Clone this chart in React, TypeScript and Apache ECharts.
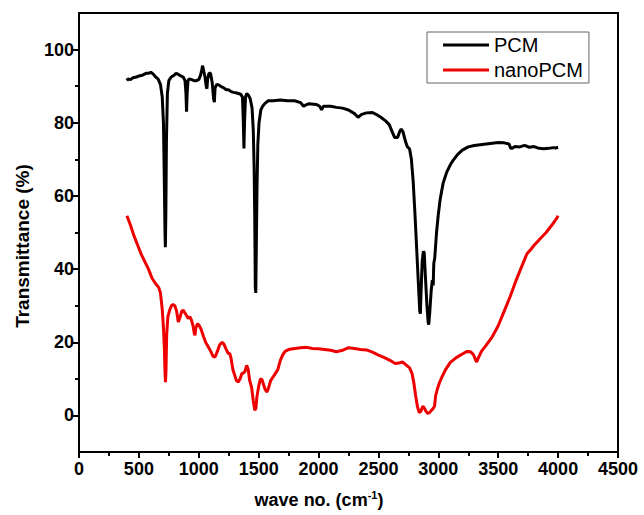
import React, { useEffect, useRef } from "react";
import * as echarts from "echarts";

const seriesNames = ["PCM", "nanoPCM"];

const pcmWave = [400,410,430,450,480,500,530,560,580,600,620,640,660,680,695,705,712,718,721,725,730,738,750,770,790,810,830,850,870,885,893,898,903,910,920,940,960,980,1000,1015,1025,1032,1042,1052,1062,1068,1074,1085,1098,1112,1124,1130,1136,1150,1170,1190,1210,1230,1250,1270,1290,1310,1330,1350,1365,1372,1377,1382,1390,1400,1415,1430,1445,1455,1462,1467,1472,1476,1480,1486,1493,1503,1518,1533,1553,1580,1620,1680,1740,1800,1850,1875,1890,1920,1980,2010,2025,2040,2100,2150,2200,2250,2300,2330,2360,2400,2450,2480,2520,2560,2590,2615,2635,2660,2680,2690,2705,2725,2740,2760,2775,2790,2805,2820,2835,2845,2850,2855,2865,2875,2882,2892,2905,2915,2920,2928,2940,2950,2957,2962,2970,2985,3000,3015,3040,3070,3100,3125,3160,3200,3250,3300,3350,3400,3450,3500,3550,3590,3605,3615,3640,3680,3720,3760,3800,3840,3880,3920,3960,3980,4000];
const pcmT = [91.5,92,91.8,92.3,92.5,92.8,93,93.5,93.5,93.8,93.3,92.5,92,90.5,87,80,65,50,46,55,75,88,91.5,92.5,92.9,93.5,93.2,92.8,92.5,91.5,88,83,88,91.5,92,91.8,91.5,91.5,91.8,93,94.5,95.6,94,92.5,90,89.3,92,93.5,93.5,91,86.5,85.6,89.5,90.5,90.3,89.8,89.5,89,89,88.5,88.3,88.2,88,87.8,87,80,73,80,87,88,87.5,86.5,84,78,68,55,35,33.5,45,62,74,80,83.5,84.5,85.3,86,86,86.2,86,86,85.5,84.5,84.8,85.2,85,84.5,83.5,84.5,84.5,84.2,84,83.5,82.5,81.5,82.3,82.7,82.8,82.3,81.5,80.5,79.5,77.5,76,76,77.8,78.3,77.5,75,73.5,72.8,70,64,55,45,35,28.5,27.8,33,42,44.8,44.5,38,30,25.5,24.8,28,34,37,35.5,41.5,43,50,55,59,63.5,66.5,68.5,69.8,71.3,72.5,73.4,73.8,74,74.2,74.4,74.6,74.5,74.2,73,73,73.5,73.4,73.8,73.3,73.5,73,72.9,73,73.2,73.1,73.3];

const nanoWave = [400,430,460,490,520,550,580,610,640,665,680,695,705,713,718,722,726,732,742,757,772,785,800,815,829,845,858,871,885,900,912,925,940,952,962,968,976,990,1005,1020,1040,1060,1080,1100,1118,1135,1155,1175,1195,1210,1230,1245,1260,1270,1285,1300,1315,1330,1345,1360,1372,1385,1400,1413,1425,1441,1455,1468,1477,1485,1500,1515,1528,1540,1555,1570,1582,1600,1620,1640,1660,1680,1700,1720,1750,1800,1850,1900,1950,2000,2050,2100,2150,2200,2250,2300,2350,2400,2450,2500,2550,2600,2640,2670,2700,2730,2760,2780,2795,2810,2825,2840,2855,2870,2880,2895,2910,2925,2940,2955,2968,2978,2990,3010,3030,3060,3100,3150,3200,3240,3270,3295,3310,3320,3335,3360,3400,3450,3500,3550,3600,3650,3700,3740,3770,3800,3850,3900,3940,3970,3990,4000];
const nanoT = [54.6,52,49,46.5,44,42,40,37.5,36,35,33.5,29,24,18,12,9.1,12,22,27,28.8,30,30.3,30,28.5,25.5,27,28.5,28.7,28,27.2,26.5,27,26,24.5,22.5,21.9,24,25.1,24.5,23.5,21.5,19.8,18.7,17.5,16.2,15.9,17.5,19.3,20,19.5,18,17,16.8,15.5,12.5,11,9.5,9.1,10,11.5,11.5,12,13.7,12.5,9.5,7.7,4,1.4,2,5,8,10,9.8,8.5,7,6.4,7.5,9.5,10.5,11.5,12.5,15,16.5,17.5,18,18.3,18.5,18.6,18.3,18.2,18,17.8,17.4,17.8,18.5,18.3,18,17.9,17.3,16.5,15.8,15,14.2,14.3,14.6,13.8,13,11.5,9,5.5,2.5,0.8,1.2,2.5,2.2,1.2,0.6,0.7,1.3,1.8,2.5,5.5,7,9,10.5,12.5,14.5,15.8,16.8,17.5,17.4,16.5,15.2,14.6,15.8,17.5,19.2,21.5,24.5,28.5,32.5,37,41,44.2,45.3,46.5,48.3,50,51.7,53,54,54.6];

const yMajorTicks = [0, 20, 40, 60, 80, 100];
const yMinorTicks = [10, 30, 50, 70, 90];
const yTitle = "Transmittance (%)";
const xTitleMain = "wave no. (cm";
const xTitleSup = "-1";

const FONT = "'Liberation Sans', Arial, sans-serif";

export default function App() {
  const ref = useRef<HTMLDivElement>(null);
  useEffect(() => {
    if (!ref.current) return;
    const chart = echarts.init(ref.current, undefined, { renderer: "svg" });
    const zip = (xs: number[], ys: number[]) => xs.map((x, i) => [x, ys[i]]);
    const axisLineStyle = { color: "#000", width: 2 };
    chart.setOption({
      animation: false,
      backgroundColor: "#fff",
      grid: { left: 79, right: 26, top: 13, bottom: 63, show: true, borderColor: "#000", borderWidth: 2 },
      legend: {
        orient: "vertical",
        left: 427,
        top: 32,
        data: seriesNames,
        icon: "rect",
        itemWidth: 46,
        itemHeight: 3,
        itemGap: 5,
        padding: [3, 6, 3, 16],
        borderColor: "#666",
        borderWidth: 1,
        backgroundColor: "#fff",
        textStyle: { fontSize: 20, color: "#000", fontFamily: FONT, padding: [0, 0, 0, 0] },
      },
      xAxis: {
        type: "value",
        min: 0,
        max: 4500,
        interval: 500,
        axisLine: { show: true, onZero: false, lineStyle: axisLineStyle },
        axisTick: { show: true, inside: false, length: 6, lineStyle: axisLineStyle },
        minorTick: { show: true, splitNumber: 2, length: 4, lineStyle: axisLineStyle },
        axisLabel: {
          fontSize: 18,
          fontWeight: "bold",
          color: "#000",
          fontFamily: FONT,
          margin: 8,
          formatter: (v: number) => String(v),
        },
        splitLine: { show: false },
        minorSplitLine: { show: false },
      },
      yAxis: [
        {
          type: "value",
          min: -10,
          max: 110,
          position: "left",
          axisLine: { show: true, onZero: false, lineStyle: axisLineStyle },
          axisTick: { show: true, inside: false, length: 6, lineStyle: axisLineStyle, customValues: yMajorTicks },
          axisLabel: {
            customValues: yMajorTicks,
            fontSize: 18,
            fontWeight: "bold",
            color: "#000",
            fontFamily: FONT,
            margin: 5,
            formatter: (v: number) => String(v),
          },
          splitLine: { show: false },
        },
        {
          type: "value",
          min: -10,
          max: 110,
          position: "left",
          axisLine: { show: false },
          axisTick: { show: true, inside: false, length: 4, lineStyle: axisLineStyle, customValues: yMinorTicks },
          axisLabel: { show: false },
          splitLine: { show: false },
        },
      ],
      graphic: [
        {
          type: "text",
          x: 22,
          y: 246,
          rotation: Math.PI / 2,
          style: {
            text: yTitle,
            fontSize: 19,
            fontWeight: "bold",
            fill: "#000",
            fontFamily: FONT,
            align: "center",
            verticalAlign: "middle",
          },
        },
        {
          type: "text",
          x: 319,
          y: 500,
          style: {
            text: "{m|" + xTitleMain + "}{s|" + xTitleSup + "}{m|)}",
            rich: {
              m: { fontSize: 18, fontWeight: "bold", fill: "#000", fontFamily: FONT },
              s: { fontSize: 11, fontWeight: "bold", fill: "#000", fontFamily: FONT, padding: [0, 0, 10, 0] },
            },
            align: "center",
            verticalAlign: "middle",
          },
        },
      ],
      series: [
        {
          name: seriesNames[0],
          type: "line",
          data: zip(pcmWave, pcmT),
          showSymbol: false,
          color: "#000",
          lineStyle: { color: "#000", width: 3 },
          z: 3,
        },
        {
          name: seriesNames[1],
          type: "line",
          data: zip(nanoWave, nanoT),
          showSymbol: false,
          color: "#ee0000",
          lineStyle: { color: "#ee0000", width: 3 },
          z: 2,
        },
      ],
    });
    return () => chart.dispose();
  }, []);
  return (
    <div
      ref={ref}
      style={{ position: "fixed", left: 0, top: 0, width: 644, height: 515, background: "#fff" }}
    />
  );
}
